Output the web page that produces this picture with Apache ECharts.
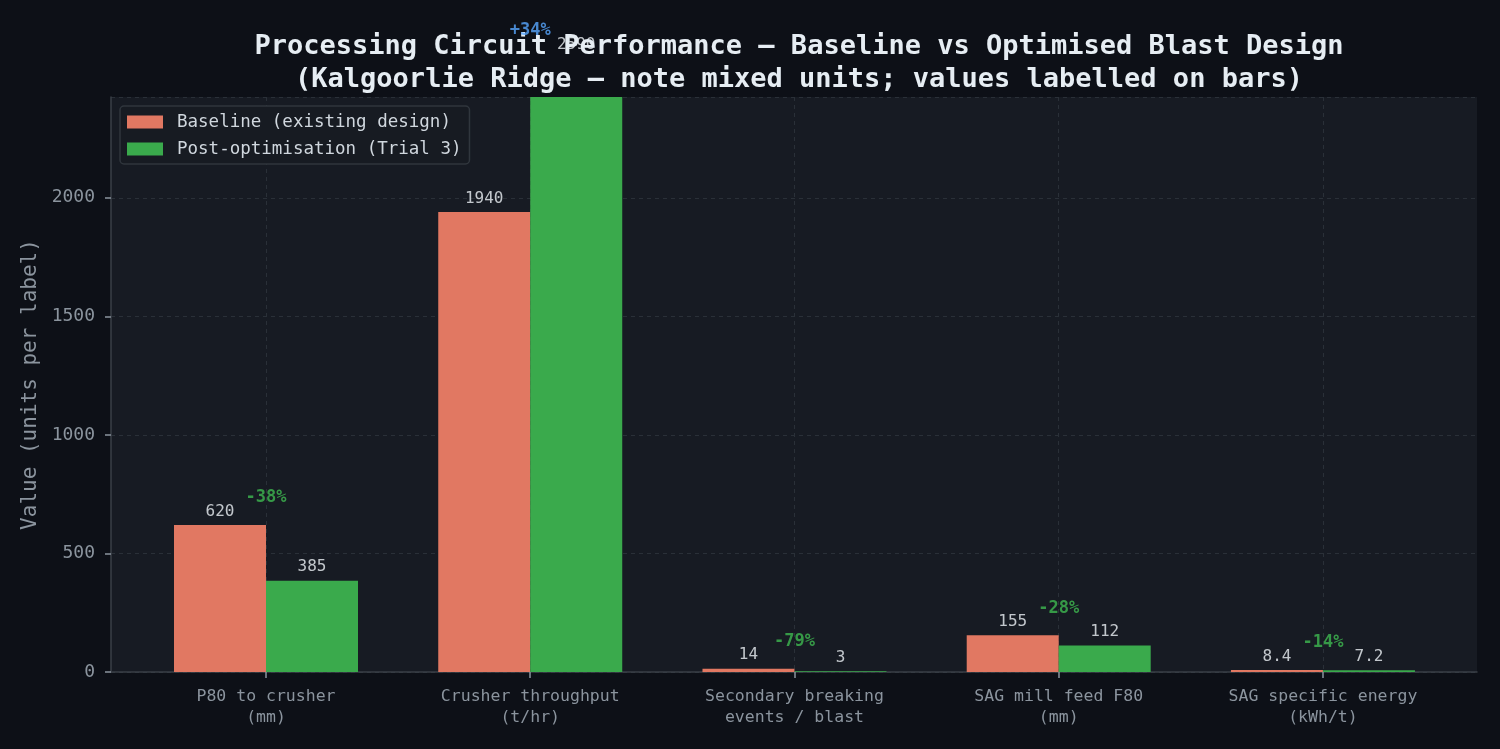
<!DOCTYPE html>
<html>
<head>
<meta charset="utf-8">
<script src="https://cdn.jsdelivr.net/npm/echarts@6/dist/echarts.min.js"></script>
<style>
  html, body { margin: 0; padding: 0; background: #0d1017; }
  #chart { width: 1500px; height: 749px; }
</style>
</head>
<body>
<div id="chart"></div>
<script>
// categories + values
var categories = [
    'P80 to crusher\n(mm)',
    'Crusher throughput\n(t/hr)',
    'Secondary breaking\nevents / blast',
    'SAG mill feed F80\n(mm)',
    'SAG specific energy\n(kWh/t)'
];
var baseline = [620, 1940, 14, 155, 8.4];
var optimised = [385, 2590, 3, 112, 7.2];
var pctLabels = ['-38%', '+34%', '-79%', '-28%', '-14%'];
var yTicks = [0, 500, 1000, 1500, 2000];

var FONT = 'DejaVu Sans Mono';
var C_BASE = '#e17862';
var C_POST = '#3aaa4c';
var C_DOWN = '#3fb950';
var C_UP = '#58a6ff';

var chart = echarts.init(document.getElementById('chart'));

var baseData = baseline.map(function (v, i) { return [i, v]; });
var postData = optimised.map(function (v, i) { return [i, v]; });
var pctData = pctLabels.map(function (t, i) {
    return {
        value: [i, Math.max(baseline[i], optimised[i])],
        label: { color: t.charAt(0) === '+' ? C_UP : C_DOWN }
    };
});

var valueLabel = function (dx) {
    return {
        show: true,
        position: 'top',
        distance: 5,
        offset: [dx, 0],
        color: '#eef2f6',
        fontFamily: FONT,
        fontSize: 16,
        formatter: function (p) { return p.value[1]; }
    };
};

var option = {
    backgroundColor: '#0d1017',
    animation: false,
    title: {
        text: 'Processing Circuit Performance \u2014 Baseline vs Optimised Blast Design\n(Kalgoorlie Ridge \u2014 note mixed units; values labelled on bars)',
        left: 794,
        top: 25,
        textAlign: 'center',
        textStyle: {
            color: '#e6edf3',
            fontFamily: FONT,
            fontSize: 27,
            fontWeight: 'bold',
            lineHeight: 33
        }
    },
    legend: {
        left: 120,
        top: 106,
        orient: 'vertical',
        icon: 'rect',
        itemWidth: 36,
        itemHeight: 13,
        itemGap: 7,
        padding: [6, 8, 5, 7],
        backgroundColor: '#171b22',
        borderColor: '#30363d',
        borderWidth: 1.5,
        borderRadius: 4,
        textStyle: { color: '#d0d7de', fontFamily: FONT, fontSize: 17.5, lineHeight: 20, padding: [0, 0, 0, 9] },
        data: ['Baseline (existing design)', 'Post-optimisation (Trial 3)']
    },
    grid: {
        left: 111,
        right: 23,
        top: 97,
        bottom: 77,
        show: true,
        backgroundColor: '#171b23',
        borderWidth: 0
    },
    xAxis: {
        type: 'value',
        min: -0.5866,
        max: 4.583,
        axisLine: { show: true, onZero: false, lineStyle: { color: '#3a3f47', width: 1.5 } },
        axisTick: {
            show: true,
            customValues: [0, 1, 2, 3, 4],
            length: 6,
            lineStyle: { color: '#8b949e', width: 1.5 }
        },
        axisLabel: {
            customValues: [0, 1, 2, 3, 4],
            color: '#8b949e',
            fontFamily: FONT,
            fontSize: 16.5,
            lineHeight: 21,
            margin: 14,
            formatter: function (v) { return categories[Math.round(v)]; }
        },
        splitLine: {
            show: true,
            lineStyle: { color: '#2a3038', type: [4, 4], width: 1 }
        }
    },
    yAxis: {
        type: 'value',
        min: 0,
        max: 2425,
        interval: 500,
        name: 'Value (units per label)',
        nameLocation: 'middle',
        nameGap: 70,
        nameTextStyle: { color: '#8b949e', fontFamily: FONT, fontSize: 21 },
        axisLine: { show: true, onZero: false, lineStyle: { color: '#3a3f47', width: 1.5 } },
        axisTick: { show: true, length: 6, lineStyle: { color: '#8b949e', width: 1.5 } },
        axisLabel: {
            color: '#8b949e',
            fontFamily: FONT,
            fontSize: 18,
            margin: 16,
            showMaxLabel: false,
            formatter: function (v) { return yTicks.indexOf(v) >= 0 ? String(v) : ''; }
        },
        splitLine: {
            show: true,
            lineStyle: { color: '#2a3038', type: [4, 4], width: 1 }
        }
    },
    series: [
        {
            name: 'Baseline (existing design)',
            type: 'bar',
            data: baseData,
            barWidth: 92,
            barGap: '0%',
            itemStyle: { color: C_BASE },
            z: 3
        },
        {
            name: 'Post-optimisation (Trial 3)',
            type: 'bar',
            data: postData,
            barWidth: 92,
            barGap: '0%',
            itemStyle: { color: C_POST },
            z: 3
        },
        {
            // value labels (not clipped like the bars)
            type: 'scatter',
            data: baseData,
            symbolSize: 1,
            itemStyle: { color: 'transparent' },
            clip: false,
            silent: true,
            label: valueLabel(-46),
            z: 5
        },
        {
            type: 'scatter',
            data: postData,
            symbolSize: 1,
            itemStyle: { color: 'transparent' },
            clip: false,
            silent: true,
            label: valueLabel(46),
            z: 5
        },
        {
            // percent change above each pair
            type: 'scatter',
            data: pctData,
            symbolSize: 1,
            itemStyle: { color: 'transparent' },
            clip: false,
            silent: true,
            label: {
                show: true,
                position: 'top',
                distance: 18,
                fontFamily: FONT,
                fontSize: 17,
                fontWeight: 'bold',
                formatter: function (p) { return pctLabels[p.dataIndex]; }
            },
            z: 6
        }
    ]
};

chart.setOption(option);
</script>
</body>
</html>
